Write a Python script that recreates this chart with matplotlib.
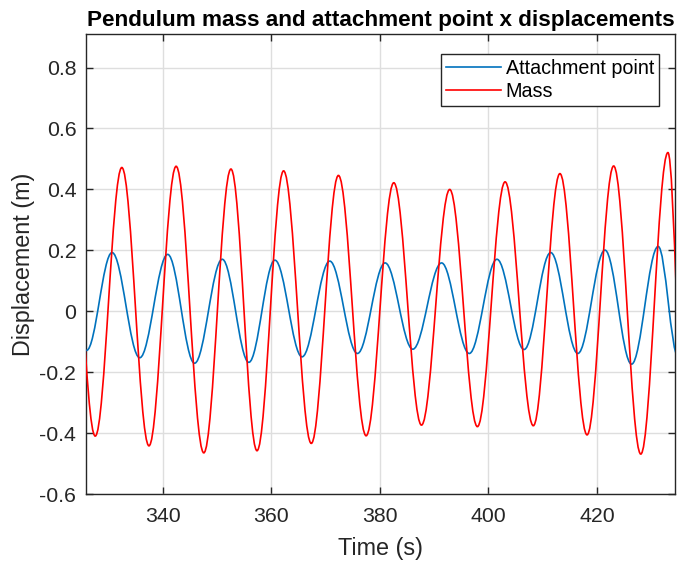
import matplotlib
matplotlib.use("Agg")
import matplotlib.pyplot as plt
from matplotlib.path import Path
from matplotlib.patches import PathPatch
from matplotlib.lines import Line2D
from matplotlib.ticker import FuncFormatter

# Extrema (peaks / troughs)
attach_t = [321.0, 326.0, 330.7, 335.8, 340.95, 345.9, 351.0, 355.9, 360.7, 365.7,
            370.8, 375.9, 381.0, 386.1, 391.4, 396.5, 401.6, 406.6, 411.5, 416.5,
            421.5, 426.4, 431.3, 435.0]
attach_x = [0.19, -0.128, 0.193, -0.152, 0.187, -0.170, 0.171, -0.167, 0.168, -0.149,
            0.165, -0.138, 0.159, -0.124, 0.159, -0.138, 0.171, -0.125, 0.193, -0.138,
            0.201, -0.173, 0.213, -0.150]

mass_t = [322.8, 327.6, 332.5, 337.5, 342.5, 347.6, 352.6, 357.4, 362.3, 367.4,
          372.4, 377.5, 382.6, 387.7, 392.9, 398.0, 403.1, 408.3, 413.2, 418.2,
          423.1, 428.1, 433.1, 436.3]
mass_x = [0.47, -0.409, 0.472, -0.441, 0.476, -0.464, 0.467, -0.457, 0.461, -0.433,
          0.446, -0.408, 0.422, -0.373, 0.400, -0.378, 0.425, -0.375, 0.452, -0.405,
          0.477, -0.468, 0.521, -0.450]

x_ticks = [340, 360, 380, 400, 420]
y_ticks = [-0.6, -0.4, -0.2, 0, 0.2, 0.4, 0.6, 0.8]

title = "Pendulum mass and attachment point x displacements"
series_labels = ["Attachment point", "Mass"]
colors = ["#0072BD", "#FF0000"]

plt.rcParams['font.family'] = ['Liberation Sans', 'DejaVu Sans']
plt.rcParams['axes.unicode_minus'] = False

fig = plt.figure(figsize=(6.77, 5.61), dpi=100)
ax = fig.add_axes([86/677, 1 - 494.3/561, (675-86)/677, (494.3-34)/561])

K = 1 - 2 / 3.141592653589793  # bezier handle for half-cosine shape


def extrema_path(ts, vs):
    verts = [(ts[0], vs[0])]
    codes = [Path.MOVETO]
    for i in range(len(ts) - 1):
        dt = ts[i + 1] - ts[i]
        verts += [(ts[i] + K * dt, vs[i]), (ts[i + 1] - K * dt, vs[i + 1]), (ts[i + 1], vs[i + 1])]
        codes += [Path.CURVE4] * 3
    return Path(verts, codes)


for ts, vs, c in [(attach_t, attach_x, colors[0]), (mass_t, mass_x, colors[1])]:
    ax.add_patch(PathPatch(extrema_path(ts, vs), fill=False, edgecolor=c, lw=1.2, zorder=3))

ax.set_xlim(325.9, 434.4)
ax.set_ylim(-0.6, 0.91)
ax.set_xticks(x_ticks)
ax.set_yticks(y_ticks)
ax.yaxis.set_major_formatter(FuncFormatter(lambda v, p: ('%g' % round(v, 2)).replace('\u2212', '-')))

ax.grid(True, color='#dedede', lw=1.0)
ax.set_axisbelow(True)
dark = '#262626'
for s in ax.spines.values():
    s.set_color(dark)
    s.set_linewidth(1.0)
ax.tick_params(direction='in', length=5, width=1.0, colors=dark, labelsize=15.3,
               top=True, right=True)
ax.tick_params(axis='x', pad=9)
ax.tick_params(axis='y', pad=7)
for lab in ax.get_xticklabels() + ax.get_yticklabels():
    lab.set_color(dark)

ax.set_xlabel("Time (s)", fontsize=16.8, color=dark, labelpad=8)
ax.set_ylabel("Displacement (m)", fontsize=16.8, color=dark, labelpad=3)
ax.set_title(title, fontsize=16.2, fontweight='bold', color='black', pad=6)

handles = [Line2D([], [], color=colors[0], lw=1.2), Line2D([], [], color=colors[1], lw=1.2)]
leg = ax.legend(handles, series_labels, loc='upper right',
                bbox_to_anchor=((659-86)/589, (494.3-54.3)/460.3), borderaxespad=0,
                fontsize=14.2, frameon=True, fancybox=False, handlelength=2.8,
                handletextpad=0.25, borderpad=0.25, labelspacing=0.2)
leg.get_frame().set_edgecolor(dark)
leg.get_frame().set_linewidth(1.0)
leg.get_frame().set_alpha(1)

fig.savefig("out.png", dpi=100)
